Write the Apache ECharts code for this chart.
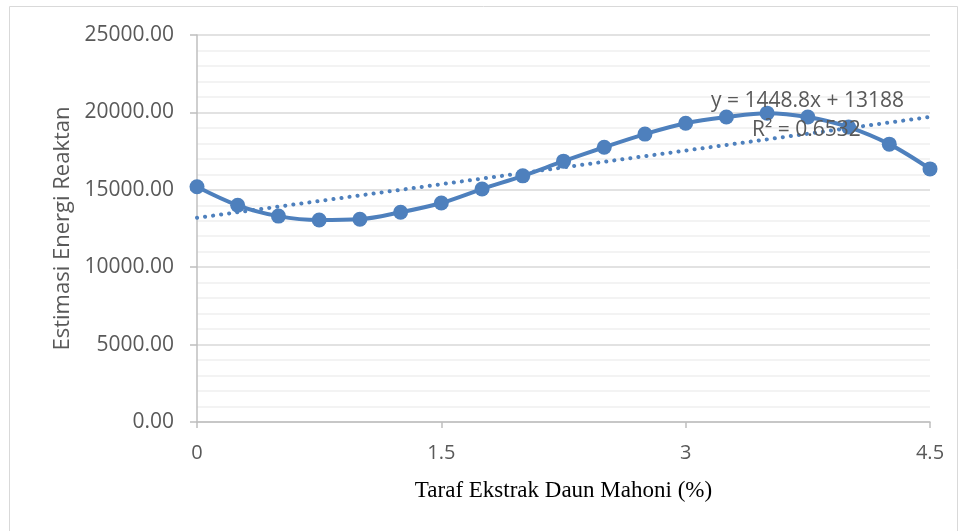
<!DOCTYPE html>
<html>
<head>
<meta charset="utf-8">
<script src="https://cdn.jsdelivr.net/npm/echarts@6/dist/echarts.min.js"></script>
<style>
    html, body { margin: 0; padding: 0; background: #fff; }
    #main { width: 960px; height: 531px; }
</style>
</head>
<body>
<div id="main"></div>
<script>
// data
var taraf = [0, 0.25, 0.5, 0.75, 1, 1.25, 1.5, 1.75, 2, 2.25, 2.5, 2.75, 3, 3.25, 3.5, 3.75, 4, 4.25, 4.5]
var energi = [15200, 14000, 13300, 13050, 13100, 13550, 14150, 15050, 15900, 16850, 17750, 18600,
    19300, 19700, 19950, 19700, 19050, 17950, 16350]
var trendSlope = 1448.8
var trendIntercept = 13188
var trendText = ['y = 1448.8x + 13188', 'R² = 0.6532']

function getChart() {
    var el = document.getElementById('main')
    var instancel = echarts.init(el)
    var blue = '#4e80bd'

    var points = taraf.map(function (x, i) { return [x, energi[i]] })
    var xs = [taraf[0], taraf[taraf.length - 1]]
    var trend = xs.map(function (x) { return [x, trendIntercept + trendSlope * x] })

    let option = {
        animation: false,
        grid: {left: 197, right: 30, top: 35, bottom: 109},
        graphic: [
            {
                type: 'rect',
                shape: {x: 9.5, y: 6.5, width: 948, height: 540},
                style: {fill: 'none', stroke: '#d9d9d9', lineWidth: 1},
                silent: true
            },
            {
                type: 'text', left: 711, top: 91, z: 10,
                style: {text: trendText[0], fontFamily: 'Open Sans', fontSize: 21, fill: '#595959'}
            },
            {
                type: 'text', left: 752, top: 120, z: 10,
                style: {text: trendText[1], fontFamily: 'Open Sans', fontSize: 21, fill: '#595959'}
            }
        ],
        xAxis: {
            type: 'value',
            min: 0,
            max: 4.5,
            interval: 1.5,
            name: 'Taraf Ekstrak Daun Mahoni (%)',
            nameLocation: 'middle',
            nameGap: 57,
            nameTextStyle: {fontFamily: 'Liberation Serif', fontSize: 23, color: '#000'},
            axisLine: {lineStyle: {color: '#bfbfbf', width: 1.5}},
            axisTick: {show: true, length: 6, lineStyle: {color: '#bfbfbf', width: 1.5}},
            axisLabel: {
                margin: 21,
                fontFamily: 'Open Sans', fontSize: 20, color: '#595959',
                formatter: function (v) { return String(v) }
            },
            splitLine: {show: false}
        },
        yAxis: {
            type: 'value',
            min: 0,
            max: 25000,
            interval: 5000,
            name: 'Estimasi Energi Reaktan',
            nameLocation: 'middle',
            nameGap: 122,
            nameTextStyle: {fontFamily: 'Open Sans', fontSize: 22, color: '#595959'},
            axisLine: {show: true, lineStyle: {color: '#bfbfbf', width: 1.5}},
            axisTick: {show: true, length: 7, lineStyle: {color: '#bfbfbf', width: 1.5}},
            axisLabel: {
                margin: 23,
                fontFamily: 'Open Sans', fontSize: 21, color: '#595959',
                formatter: function (v) { return v.toFixed(2) }
            },
            splitLine: {show: true, lineStyle: {color: '#d9d9d9', width: 1.5}},
            minorTick: {show: false, splitNumber: 5},
            minorSplitLine: {show: true, lineStyle: {color: '#efefef', width: 1.5}}
        },
        series: [
            {
                name: 'trend',
                type: 'line',
                data: trend,
                symbol: 'none',
                z: 1,
                lineStyle: {color: blue, width: 4, type: [0.1, 8], cap: 'round'}
            },
            {
                name: 'energi',
                type: 'line',
                data: points,
                smooth: 0.35,
                symbol: 'circle',
                symbolSize: 15,
                z: 2,
                itemStyle: {color: blue},
                lineStyle: {color: blue, width: 4}
            }
        ]
    };
    instancel.setOption(option)
}

getChart()
</script>
</body>
</html>
